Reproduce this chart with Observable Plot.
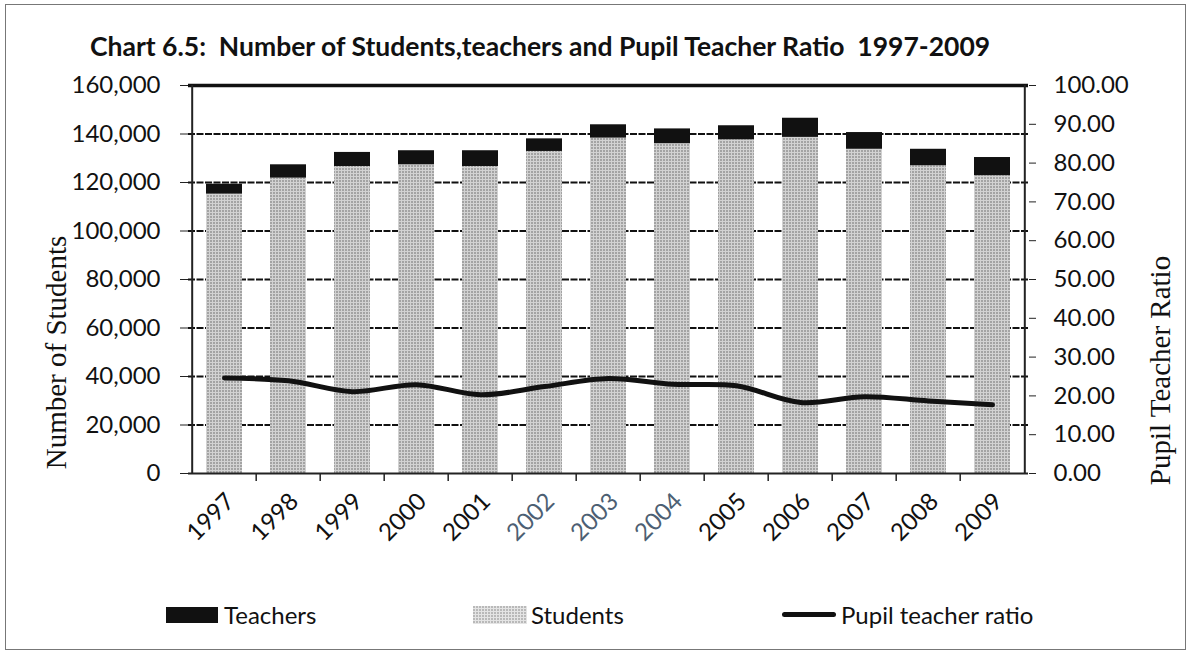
<!DOCTYPE html>
<html>
<head>
<meta charset="utf-8">
<script src="https://cdn.jsdelivr.net/npm/d3@7"></script>
<script src="https://cdn.jsdelivr.net/npm/@observablehq/plot@0.6"></script>
<style>
  html, body { margin: 0; padding: 0; background: #fff; }
  #wrap { position: relative; width: 1191px; height: 654px; overflow: hidden; font-family: Lato, "Open Sans", sans-serif; }
  #frame { position: absolute; left: 5px; top: 4px; width: 1179px; height: 644px; border: 1.5px solid #777; }
  #title { position: absolute; left: 90px; top: 30px; font-size: 26.5px; line-height: 32px; font-weight: bold; color: #111; white-space: nowrap; }
  .ytitle { position: absolute; font-family: "Liberation Serif", "DejaVu Serif", serif; font-size: 29px; line-height: 33px; color: #111; white-space: nowrap; transform-origin: center center; width: 300px; text-align: center; }
  .leg { position: absolute; top: 600px; font-size: 24px; line-height: 29px; color: #111; white-space: nowrap; }
  .sw { position: absolute; }
  #chart { position: absolute; left: 0; top: 0; }
</style>
</head>
<body>
<div id="wrap">
  <div id="frame"></div>
  <div id="chart"></div>
  <div id="title">Chart 6.5:&nbsp; Number of Students,teachers and Pupil Teacher Ratio&nbsp; 1997-2009</div>
  <div class="ytitle" style="left:-94px; top:336px; transform: rotate(-90deg);">Number of Students</div>
  <div class="ytitle" style="left:1010px; top:354px; transform: rotate(-90deg);">Pupil Teacher Ratio</div>
  <div class="sw" style="left:166px; top:607px; width:52px; height:16px; background:#111;"></div>
  <div class="leg" style="left:224px;">Teachers</div>
  <svg class="sw" style="left:473px; top:606px;" width="54" height="18"><rect width="54" height="18" fill="url(#studleg)"/></svg>
  <div class="leg" style="left:531px;">Students</div>
  <div class="sw" style="left:782px; top:612px; width:54px; height:5px; background:#111; border-radius:3px;"></div>
  <div class="leg" style="left:841px;">Pupil teacher ratio</div>
</div>
<svg width="0" height="0" style="position:absolute">
  <defs>
    <pattern id="studleg" patternUnits="userSpaceOnUse" width="3" height="3">
      <rect width="3" height="3" fill="#e4e4e4"/>
      <rect width="2" height="2" fill="#b9b9b9"/>
    </pattern>
  </defs>
</svg>
<script>
const years = ["1997","1998","1999","2000","2001","2002","2003","2004","2005","2006","2007","2008","2009"];
const students = [115200,121800,126600,127300,126600,132800,138300,136000,137600,138600,133700,126900,122800];
const teachers = [4100,5500,5800,5800,6500,5200,5500,6100,5800,7900,6900,6800,7500];
const ratio = [24.6,23.9,21.1,22.9,20.3,22.4,24.5,23.0,22.6,18.3,19.8,18.7,17.7];
const leftTicks = [0,20000,40000,60000,80000,100000,120000,140000,160000];
const rightTicks = [0,10,20,30,40,50,60,70,80,90,100];
const gridVals = [20000,40000,60000,80000,100000,120000,140000];

const K = 1600; // 100 ratio units = 160,000 students
const rows = years.map((y, i) => ({year: y, students: students[i], teachers: teachers[i], total: students[i] + teachers[i], ratio: ratio[i]}));
const labelColor = y => (y === "2002" || y === "2003" || y === "2004") ? "#4d5f73" : "#111";

const W = 1191, mL = 188, mR = 163;
const half = (W - mL - mR) / years.length / 2;

const chart = Plot.plot({
  width: W,
  height: 560,
  marginTop: 85,
  marginLeft: mL,
  marginRight: mR,
  marginBottom: 87,
  style: {fontFamily: "Lato, 'Open Sans', sans-serif", fontSize: "24px", color: "#111", background: "transparent"},
  x: {domain: years, paddingInner: 0.43, paddingOuter: 0.215, label: null, axis: null},
  y: {domain: [0, 160000], label: null},
  marks: [
    Plot.ruleY(gridVals, {stroke: "#111", strokeWidth: 2.2, strokeDasharray: "7,1.5"}),
    Plot.barY(rows, {x: "year", y: "students", fill: "url(#stud)"}),
    Plot.barY(rows, {x: "year", y1: "students", y2: "total", fill: "#111"}),
    Plot.ruleY([160000], {stroke: "#111", strokeWidth: 3.5}),
    Plot.ruleY([0], {stroke: "#222", strokeWidth: 2}),
    Plot.ruleX([years[0]], {dx: -half, y1: 0, y2: 160000, stroke: "#222", strokeWidth: 2}),
    Plot.ruleX([years[years.length - 1]], {dx: half, y1: 0, y2: 160000, stroke: "#222", strokeWidth: 2}),
    Plot.ruleX(years.slice(1), {x: d => d, dx: -half, y1: 0, y2: -3300, stroke: "#222", strokeWidth: 1.5}),
    Plot.line(rows, {x: "year", y: d => d.ratio * K, stroke: "#111", strokeWidth: 5, curve: "catmull-rom"}),
    Plot.axisY(leftTicks, {anchor: "left", tickFormat: d3.format(","), tickSize: 8, tickPadding: 20, stroke: "#222", fontSize: 24}),
    Plot.axisY(rightTicks.map(v => v * K), {anchor: "right", tickFormat: d => (d / K).toFixed(2), tickSize: 7, tickPadding: 18, stroke: "#222", fontSize: 24}),
    Plot.text(rows, {x: "year", y: 0, text: "year", rotate: -45, textAnchor: "end", dx: 6, dy: 24, fill: d => labelColor(d.year), fontSize: 24})
  ]
});

// pattern for the students' halftone fill
const ns = "http://www.w3.org/2000/svg";
const defs = document.createElementNS(ns, "defs");
defs.innerHTML = `<pattern id="stud" patternUnits="userSpaceOnUse" width="3" height="3">
  <rect width="3" height="3" fill="#d2d2d2"/>
  <rect width="2" height="2" fill="#a3a3a3"/>
</pattern>`;
chart.insertBefore(defs, chart.firstChild);
document.getElementById("chart").appendChild(chart);
</script>
</body>
</html>
